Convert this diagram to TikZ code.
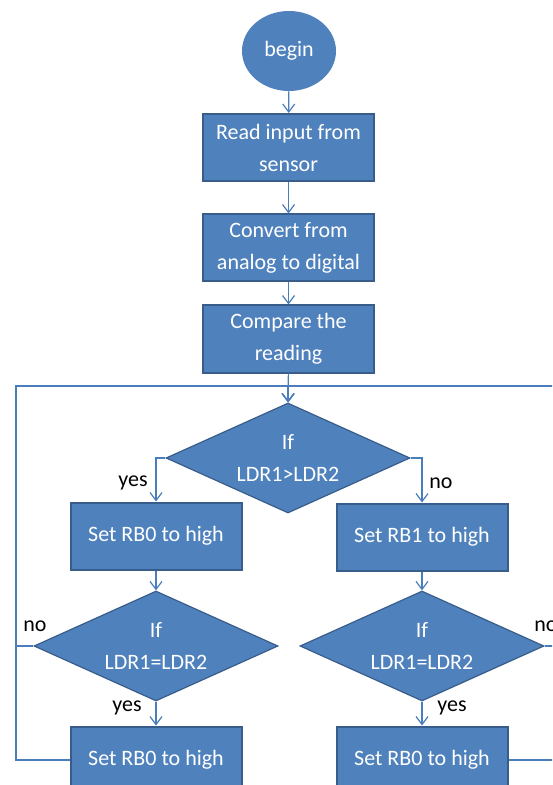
\documentclass[tikz,border=0pt]{standalone}
\usepackage{fontspec}
\setmainfont{Carlito}
\usepackage{xcolor}
\usetikzlibrary{shapes.geometric, arrows.meta}

\definecolor{boxblue}{HTML}{4F81BD}
\definecolor{boxedge}{HTML}{385D8A}
\definecolor{lineblue}{HTML}{4A7EBB}

\begin{document}
\begin{tikzpicture}[x=0.5pt, y=-0.5pt,
        font=\fontsize{11}{16}\selectfont,
        stepbox/.style={rectangle, draw=boxedge, line width=1pt, fill=boxblue, text=white,
            minimum width=85.5pt, minimum height=33.5pt, align=center, inner sep=1pt},
        testbox/.style={diamond, draw=boxedge, line width=0.6pt, fill=boxblue, text=white,
            minimum width=122pt, minimum height=55pt, aspect=2.2, align=center, inner sep=0pt},
        flow/.style={draw=lineblue, line width=0.6pt, -{Straight Barb[length=4pt, width=6pt]}},
        tag/.style={text=black}]
        \path[use as bounding box, clip] (0,0) rectangle (552,785);
        \fill[white] (0,0) rectangle (552,785);

        \node[ellipse, fill=boxblue, text=white, minimum width=47pt, minimum height=40pt, inner sep=0pt] (begin) at (289, 51) {begin};
        \node[stepbox] (read) at (288.5, 147.5) {Read input from\\sensor};
        \node[stepbox] (convert) at (288.5, 248) {Convert from\\analog to digital};
        \node[stepbox] (compare) at (288.5, 339) {Compare the\\reading};
        \node[testbox] (ifgt) at (288, 458) {If\\LDR1>LDR2};
        \node[stepbox] (setzero) at (156, 536) {Set RB0 to high};
        \node[stepbox] (setone) at (422, 537) {Set RB1 to high};
        \node[testbox] (ifeqleft) at (156, 646) {If\\LDR1=LDR2};
        \node[testbox] (ifeqright) at (422, 646) {If\\LDR1=LDR2};
        \node[stepbox] (lastleft) at (156, 760) {Set RB0 to high};
        \node[stepbox] (lastright) at (422, 760) {Set RB0 to high};

        \coordinate (loopleft) at (16, 386);
        \coordinate (loopright) at (562, 386);
        \coordinate (merge) at (288, 386);
        \coordinate (noleft) at (16, 646);
        \coordinate (noright) at (562, 646);

        \draw[flow] (begin) to (read);
        \draw[flow] (read) to (convert);
        \draw[flow] (convert) to (compare);
        \draw[flow] (compare) to (ifgt);
        \draw[flow] (ifgt.west) -| (setzero);
        \draw[flow] (ifgt.east) -| (setone);
        \draw[flow] (setzero) to (ifeqleft);
        \draw[flow] (setone) to (ifeqright);
        \draw[flow] (ifeqleft) to (lastleft);
        \draw[flow] (ifeqright) to (lastright);

        % loops back to the first test
        \draw[flow] (lastleft.west) -| (loopleft) -- (merge) -- (ifgt.north);
        \draw[flow] (lastright.east) -| (loopright) -- (merge) -- (ifgt.north);
        \draw[draw=lineblue, line width=0.6pt] (ifeqleft.west) -- (noleft)
            (ifeqright.east) -- (noright);

        \node[tag] (yesgt) at (133, 483) {yes};
        \node[tag] (nogt) at (441, 483) {no};
        \node[tag] (noeqleft) at (35, 626) {no};
        \node[tag] (noeqright) at (546, 626) {no};
        \node[tag] (yeseqleft) at (127, 708) {yes};
        \node[tag] (yeseqright) at (452, 708) {yes};
    \end{tikzpicture}
\end{document}
